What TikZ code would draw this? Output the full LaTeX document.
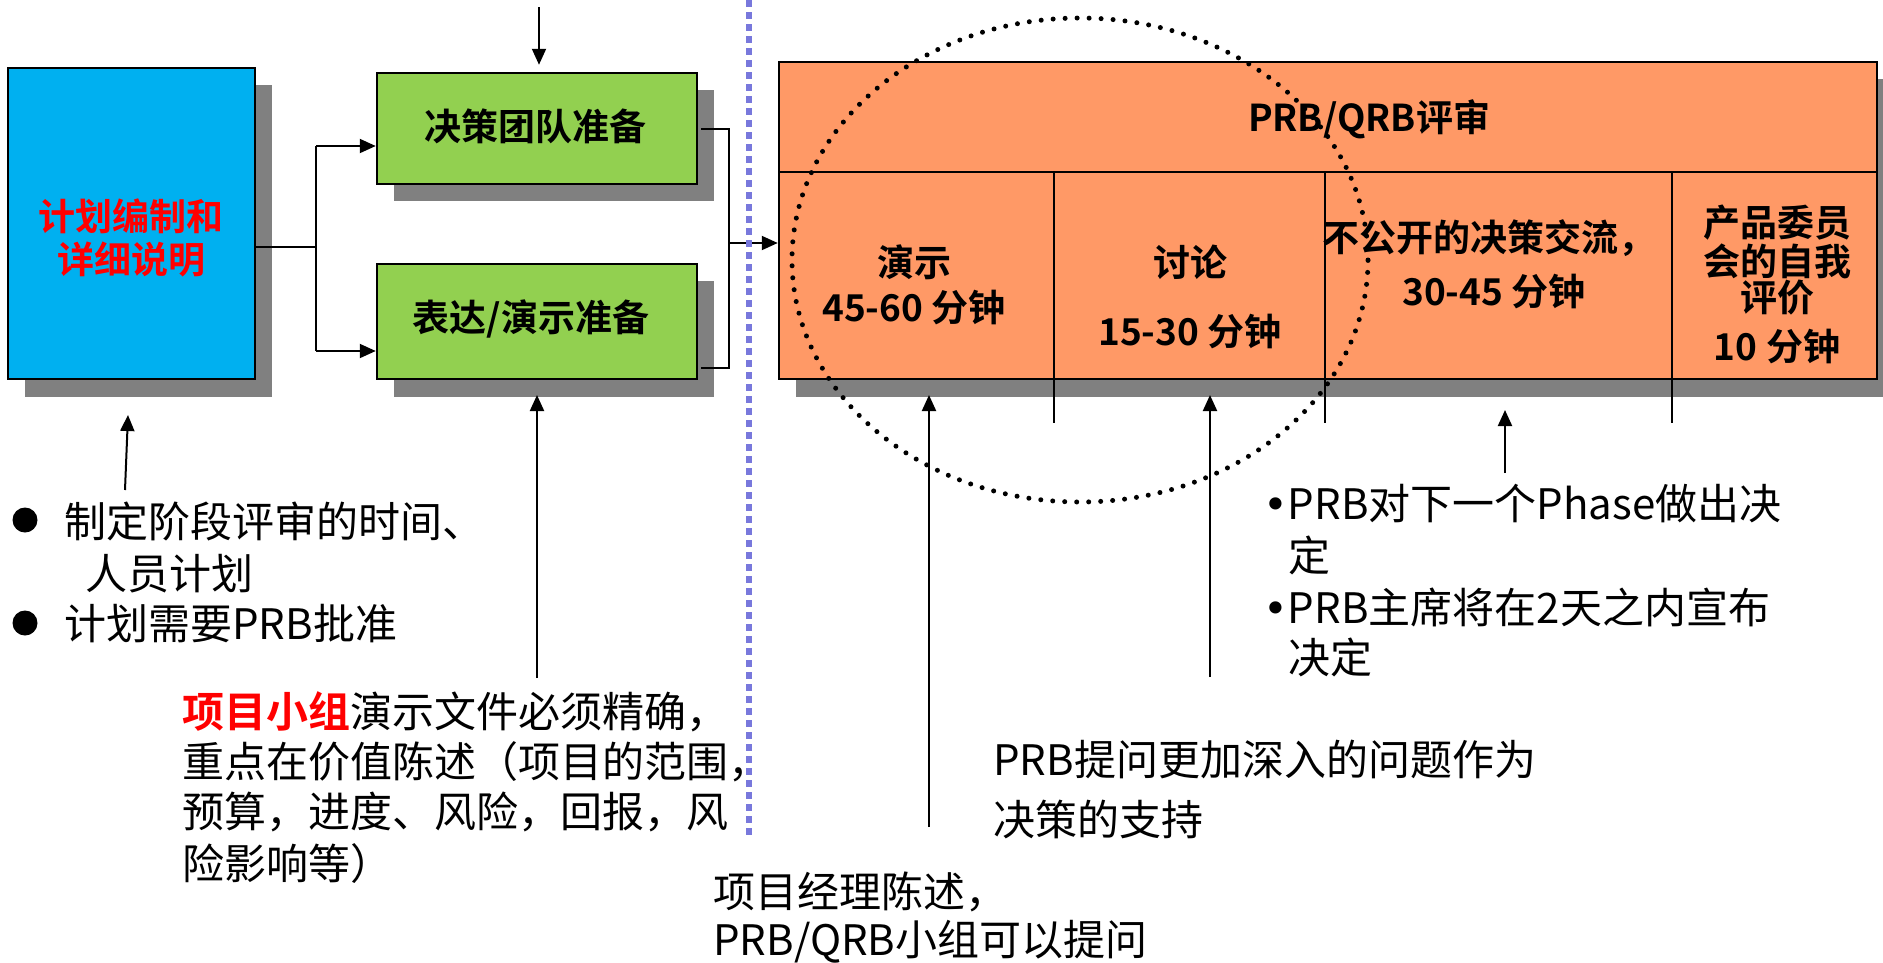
\documentclass[tikz,border=0pt]{standalone}
\usepackage{fontspec}
\setmainfont{Noto Sans CJK SC}[BoldFont={Noto Sans CJK SC Bold}]
\newfontfamily\bulletfont{DejaVu Sans}
\usetikzlibrary{arrows.meta}
\definecolor{boxblue}{HTML}{00B0F0}
\definecolor{boxgreen}{HTML}{92D050}
\definecolor{boxorange}{HTML}{FF9966}
\definecolor{shadowgray}{HTML}{808080}
\definecolor{divblue}{RGB}{120,120,220}
\definecolor{hired}{RGB}{255,0,0}
\begin{document}
\begin{tikzpicture}[x=1pt,y=-1pt,
  box/.style={draw=black, line width=2.5pt, inner sep=0pt},
  conn/.style={draw=black, line width=2pt},
  arr/.style={conn, -{Triangle[length=16pt,width=14pt]}},
  boxtxt/.style={font=\fontsize{37}{44}\selectfont\bfseries, inner sep=0pt, text height=31pt, text depth=4.5pt},
  note/.style={font=\fontsize{42}{50}\selectfont, inner sep=0pt, anchor=west, text height=35pt, text depth=5pt},
]
\useasboundingbox (0,0) rectangle (1883,962);

% shadows
\fill[shadowgray] (25,85) rectangle (272,397);
\fill[shadowgray] (394,90) rectangle (714,201);
\fill[shadowgray] (394,281) rectangle (714,397);
\fill[shadowgray] (796,79) rectangle (1883,397);

% boxes
\node[box, fill=boxblue, minimum width=247pt, minimum height=311pt] (blue) at (131.5,223.5) {};
\node[box, fill=boxgreen, minimum width=320pt, minimum height=111pt] (g1) at (537,128.5) {};
\node[box, fill=boxgreen, minimum width=320pt, minimum height=115pt] (g2) at (537,321.5) {};
\node[box, fill=boxorange, minimum width=1098pt, minimum height=317pt] (orange) at (1328,220.5) {};

% orange table lines
\draw[conn] (779,172) -- (1877,172);
\draw[conn] (1054,172) -- (1054,423);
\draw[conn] (1325,172) -- (1325,423);
\draw[conn] (1672,172) -- (1672,423);

% box texts
\node[boxtxt, text=hired] (bt1) at (131,217) {计划编制和};
\node[boxtxt, text=hired] (bt2) at (131,260) {详细说明};
\node[boxtxt] (g1t) at (535,127) {决策团队准备};
\node[boxtxt] (g2t) at (531,318) {表达/演示准备};
\node[boxtxt] (ot) at (1369,118) {PRB/QRB评审};
\node[boxtxt] (c1a) at (914,263) {演示};
\node[boxtxt] (c1b) at (914,308) {45-60 分钟};
\node[boxtxt] (c2a) at (1190,263) {讨论};
\node[boxtxt] (c2b) at (1190,332) {15-30 分钟};
\node[boxtxt] (c3a) at (1489,238) {不公开的决策交流，};
\node[boxtxt] (c3b) at (1494,292) {30-45 分钟};
\node[boxtxt] (c4a) at (1777,223) {产品委员};
\node[boxtxt] (c4b) at (1777,262) {会的自我};
\node[boxtxt] (c4c) at (1777,298) {评价};
\node[boxtxt] (c4d) at (1777,347) {10 分钟};

% split connector
\coordinate (sp) at (316,247);
\coordinate (t1) at (316,146);
\coordinate (t2) at (316,351);
\draw[conn] (blue.east |- sp) -- (sp);
\draw[conn] (t1) -- (t2);
\draw[arr] (t1) -- (g1.west |- t1);
\draw[arr] (t2) -- (g2.west |- t2);

% top arrow
\coordinate (top) at (539,7);
\draw[arr, shorten >=7pt] (top) -- (g1.north -| top);

% merge connector
\coordinate (m0) at (701,129);
\coordinate (m1) at (729,129);
\coordinate (m2) at (729,368);
\coordinate (m4) at (701,368);
\coordinate (m3) at (729,243);
\draw[conn] (m0) -- (m1) -- (m2) -- (m4);
\draw[arr] (m3) -- (orange.west |- m3);

% dotted divider
\coordinate (d1) at (749,0);
\coordinate (d2) at (749,837);
\draw[divblue, line width=6pt, dash pattern=on 7pt off 5pt] (d1) -- (d2);

% dotted ellipse
\coordinate (ec) at (1080,260);
\draw[line width=5pt, line cap=round, dash pattern=on 0pt off 12pt] (ec) ellipse [x radius=288pt, y radius=242pt];

% annotation arrows
\coordinate (a0s) at (125,490); \coordinate (a0e) at (128,415);
\coordinate (a4s) at (537,678); \coordinate (a4e) at (537,395);
\coordinate (a1s) at (929,827); \coordinate (a1e) at (929,395);
\coordinate (a2s) at (1210,677); \coordinate (a2e) at (1210,395);
\coordinate (a3s) at (1505,473); \coordinate (a3e) at (1505,410);
\draw[arr] (a0s) -- (a0e);
\draw[arr] (a4s) -- (a4e);
\draw[arr] (a1s) -- (a1e);
\draw[arr] (a2s) -- (a2e);
\draw[arr] (a3s) -- (a3e);

% left bullets
\node[circle, fill=black, minimum size=25pt, inner sep=0pt] (bl1) at (25,520) {};
\node[circle, fill=black, minimum size=25pt, inner sep=0pt] (bl2) at (25,623) {};
\node[note] (l1) at (64,522) {制定阶段评审的时间、};
\node[note] (l2) at (85,574) {人员计划};
\node[note] (l3) at (64,624) {计划需要PRB批准};

% project team note
\node[note] (p1) at (182,712) {\textcolor{hired}{\bfseries 项目小组}演示文件必须精确，};
\node[note] (p2) at (182,762) {重点在价值陈述（项目的范围，};
\node[note] (p3) at (182,812) {预算，进度、风险，回报，风};
\node[note] (p4) at (182,864) {险影响等）};

% bottom notes
\node[note] (q1) at (713,892) {项目经理陈述，};
\node[note] (q2) at (713,940) {PRB/QRB小组可以提问};
\node[note] (r1) at (993,760) {PRB提问更加深入的问题作为};
\node[note] (r2) at (993,820) {决策的支持};

% right notes
\node[note] (s1) at (1263,504) {{\bulletfont •}PRB对下一个Phase做出决};
\node[note] (s2) at (1288,556) {定};
\node[note] (s3) at (1263,608) {{\bulletfont •}PRB主席将在2天之内宣布};
\node[note] (s4) at (1288,658) {决定};
\end{tikzpicture}
\end{document}
